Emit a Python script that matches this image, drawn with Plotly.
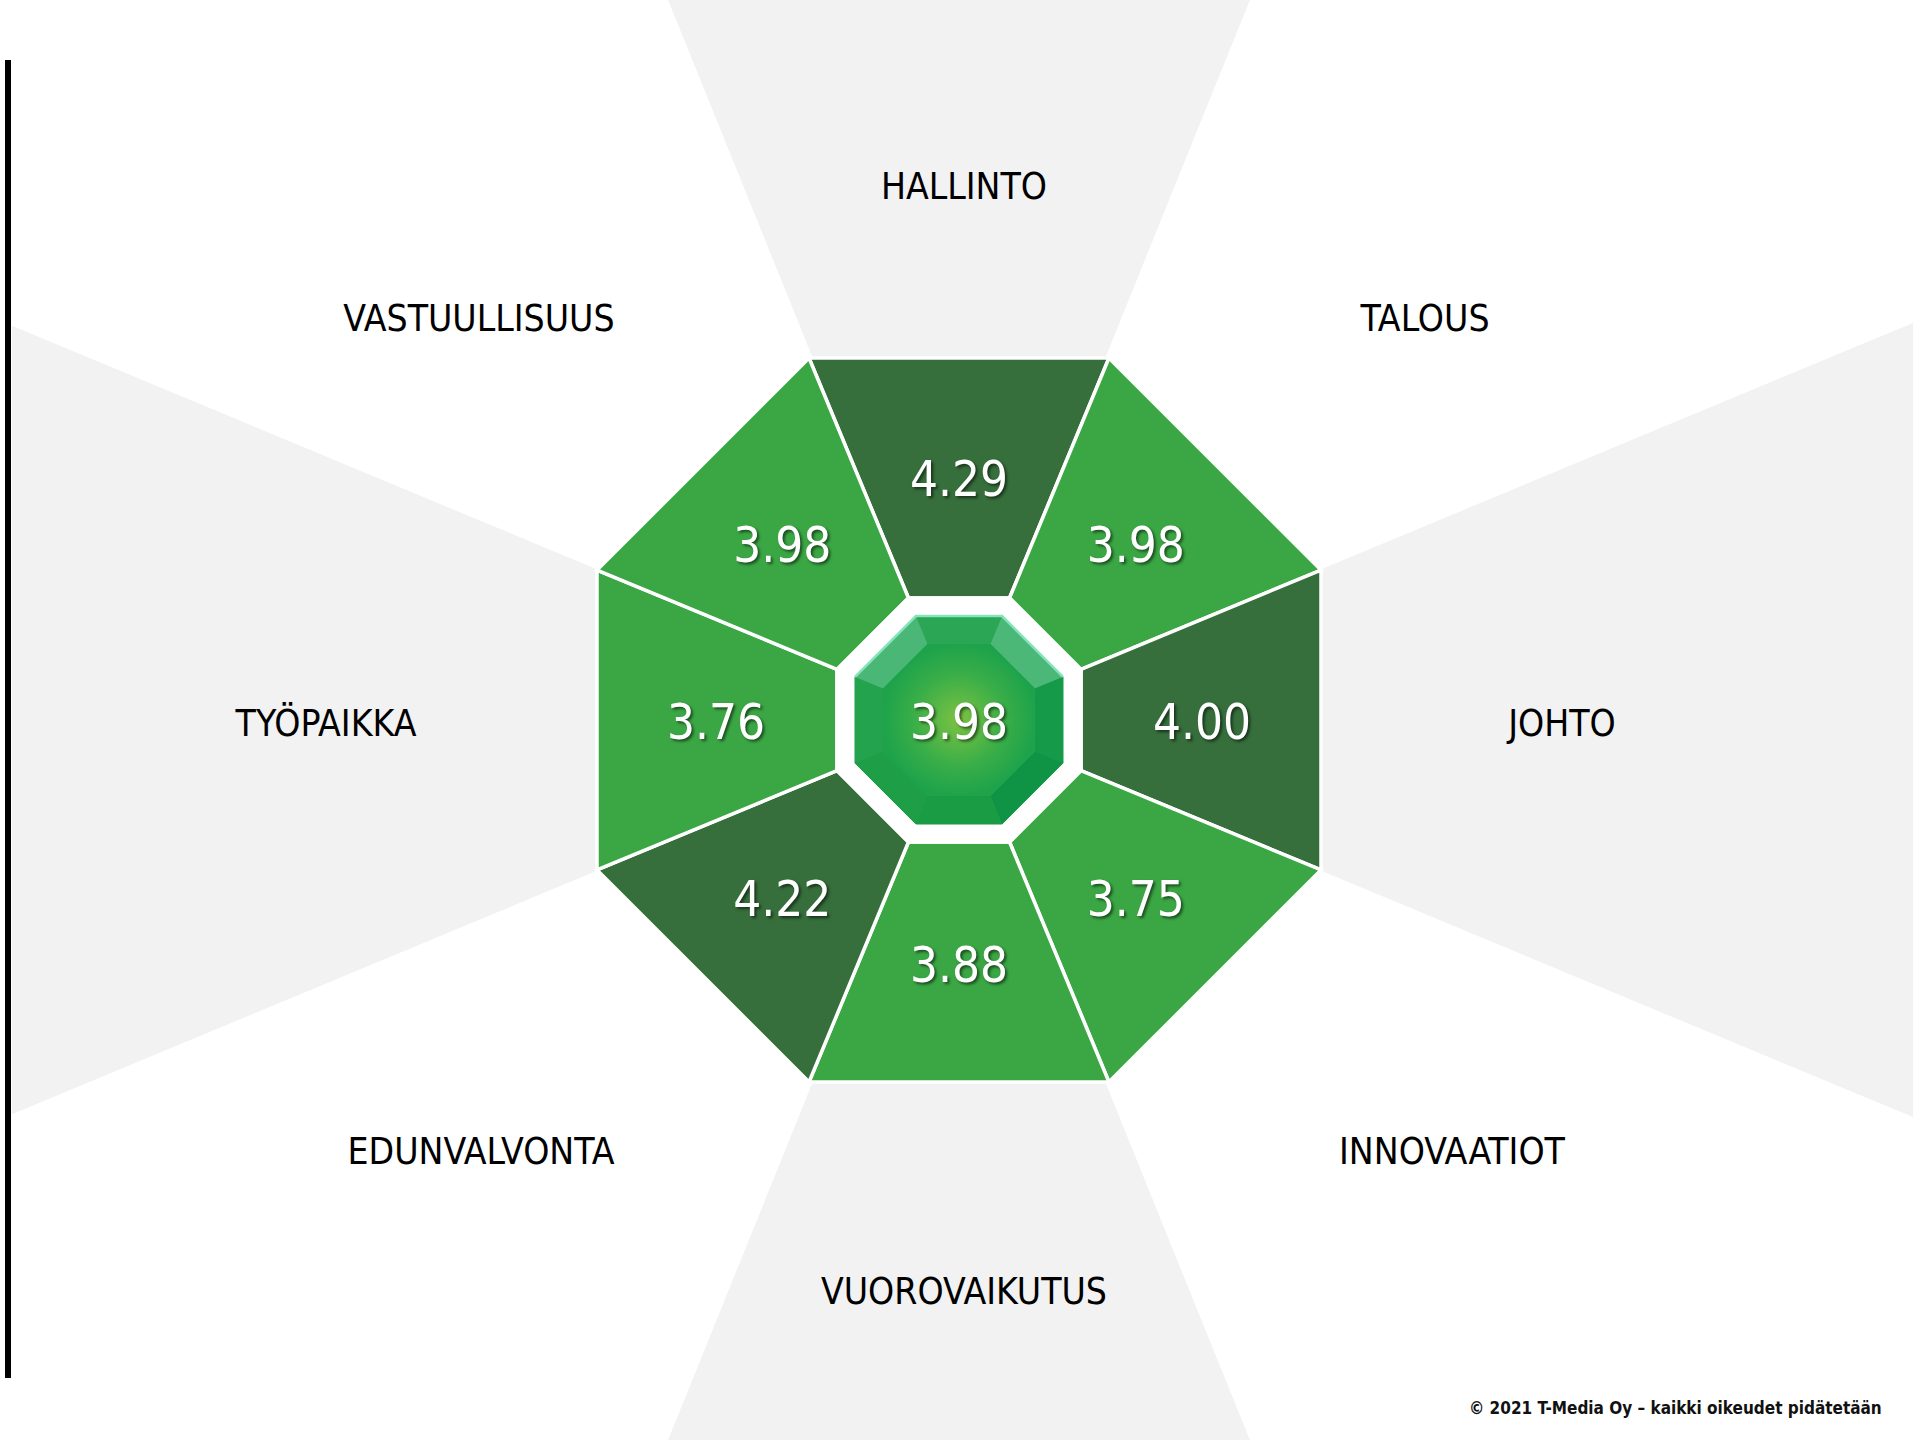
import numpy as np
import plotly.graph_objects as go

# ---------------- data ----------------
categories = ["HALLINTO", "TALOUS", "JOHTO", "INNOVAATIOT",
              "VUOROVAIKUTUS", "EDUNVALVONTA", "TYÖPAIKKA", "VASTUULLISUUS"]
values = [4.29, 3.98, 4.00, 3.75, 3.88, 4.22, 3.76, 3.98]
overall = 3.98
copyright_text = "© 2021 T-Media Oy – kaikki oikeudet pidätetään"

# ---------------- layout constants ----------------
W, H = 1913, 1440
CX, CY = 959, 720
R_OUT, R_IN = 362, 122          # apothems of segment ring
GEM_OUT, GEM_IN = 104, 76       # apothems of centre gem
VAL_R = [243, 250, 243, 250, 243, 250, 243, 250]
WEDGE_HALF = {0: 22.0, 2: 22.6, 4: 22.0, 6: 22.6}
LABEL_POS = [(964, 190), (1425, 322), (1562, 727), (1452, 1155),
             (964, 1295), (481, 1155), (326, 727), (479, 322)]
LIGHT, DARK, GREY = "#3ba744", "#366f3b", "#f2f2f2"
FONT = "DejaVu Sans Condensed, Liberation Sans Narrow, sans-serif"
C225 = np.cos(np.radians(22.5))


def pt(apothem, ang):
    r = apothem / C225
    a = np.radians(ang)
    return CX + r * np.cos(a), CY + r * np.sin(a)


def octagon(apothem):
    xs, ys = [], []
    for k in range(9):
        x, y = pt(apothem, -90 + 45 * k - 22.5)
        xs.append(x); ys.append(y)
    return xs, ys


fig = go.Figure()

# background wedges
for k in range(0, 8, 2):
    a = -90 + 45 * k
    x1, y1 = pt(4000, a - WEDGE_HALF[k])
    x2, y2 = pt(4000, a + WEDGE_HALF[k])
    fig.add_trace(go.Scatter(x=[CX, x1, x2, CX], y=[CY, y1, y2, CY], mode="lines",
                             fill="toself", fillcolor=GREY, line=dict(width=0),
                             hoverinfo="skip", showlegend=False))

# segments
for k, (cat, v) in enumerate(zip(categories, values)):
    a = -90 + 45 * k
    p = [pt(R_IN, a - 22.5), pt(R_IN, a + 22.5), pt(R_OUT, a + 22.5), pt(R_OUT, a - 22.5)]
    p.append(p[0])
    fig.add_trace(go.Scatter(x=[q[0] for q in p], y=[q[1] for q in p], mode="lines",
                             fill="toself", fillcolor=DARK if v >= 4.0 else LIGHT,
                             line=dict(color="white", width=3.5),
                             hoverinfo="skip", showlegend=False))

# white hole
hx, hy = octagon(R_IN)
fig.add_trace(go.Scatter(x=hx, y=hy, mode="lines", fill="toself", fillcolor="white",
                         line=dict(color="white", width=3.5), hoverinfo="skip", showlegend=False))

# gem outer
gx, gy = octagon(GEM_OUT)
fig.add_trace(go.Scatter(x=gx, y=gy, mode="lines", fill="toself", fillcolor="#1fa04b",
                         line=dict(color="#1a9a48", width=1), hoverinfo="skip", showlegend=False))
facet_cols = ["#2aa654", "#4cb878", "#159a4a", "#0f9446", "#1a9c45", "#1e9e47", "#24a34f", "#4bb776"]
for k in range(8):
    a = -90 + 45 * k
    p = [pt(GEM_IN, a - 22.5), pt(GEM_IN, a + 22.5), pt(GEM_OUT, a + 22.5), pt(GEM_OUT, a - 22.5)]
    p.append(p[0])
    fig.add_trace(go.Scatter(x=[q[0] for q in p], y=[q[1] for q in p], mode="lines",
                             fill="toself", fillcolor=facet_cols[k], line=dict(width=0),
                             hoverinfo="skip", showlegend=False))
# bright rim on top edges
rim = [pt(GEM_OUT, -90 - 22.5 - 45), pt(GEM_OUT, -90 - 22.5), pt(GEM_OUT, -90 + 22.5), pt(GEM_OUT, -90 + 22.5 + 45)]
fig.add_trace(go.Scatter(x=[q[0] for q in rim], y=[q[1] for q in rim], mode="lines",
                         line=dict(color="#86e3bd", width=2.5), hoverinfo="skip", showlegend=False))
ix, iy = octagon(GEM_IN)
fig.add_trace(go.Scatter(x=ix, y=iy, mode="lines", fill="toself",
                         fillgradient=dict(type="radial", colorscale=[[0, "#7cc242"], [0.6, "#3aae48"], [1, "#1ea34b"]]),
                         line=dict(width=0), hoverinfo="skip", showlegend=False))

# values
vx = [pt(VAL_R[k] * C225, -90 + 45 * k)[0] for k in range(8)]
vy = [pt(VAL_R[k] * C225, -90 + 45 * k)[1] + 7 for k in range(8)]
fig.add_trace(go.Scatter(x=vx + [CX], y=vy + [CY + 7], mode="text",
                         text=[f"{v:.2f}" for v in values] + [f"{overall:.2f}"],
                         textposition="middle center",
                         textfont=dict(family=FONT, size=49, color="white",
                                       shadow="2px 2px 3px rgba(0,0,0,0.55)"),
                         hoverinfo="skip", showlegend=False))

# category labels
fig.add_trace(go.Scatter(x=[p[0] for p in LABEL_POS], y=[p[1] for p in LABEL_POS], mode="text",
                         text=categories, textposition="middle center",
                         textfont=dict(family=FONT, size=37, color="black"),
                         hoverinfo="skip", showlegend=False))

fig.add_annotation(x=1884, y=1408, xref="x", yref="y", text=f"<b>{copyright_text}</b>",
                   showarrow=False, xanchor="right", yanchor="middle",
                   font=dict(family=FONT, size=17, color="#111111"))

fig.add_shape(type="rect", x0=0, x1=12, y0=0, y1=H, fillcolor="white", line=dict(width=0), layer="above")
fig.add_shape(type="rect", x0=5, x1=11, y0=60, y1=1378, fillcolor="black", line=dict(width=0), layer="above")

fig.update_layout(width=W, height=H, margin=dict(l=0, r=0, t=0, b=0),
                  paper_bgcolor="white", plot_bgcolor="white",
                  xaxis=dict(range=[0, W], visible=False, fixedrange=True),
                  yaxis=dict(range=[H, 0], visible=False, fixedrange=True))

fig.write_html("out.html", config={"displayModeBar": False},
               post_script="document.body.style.margin='0';document.body.style.overflow='hidden';")
